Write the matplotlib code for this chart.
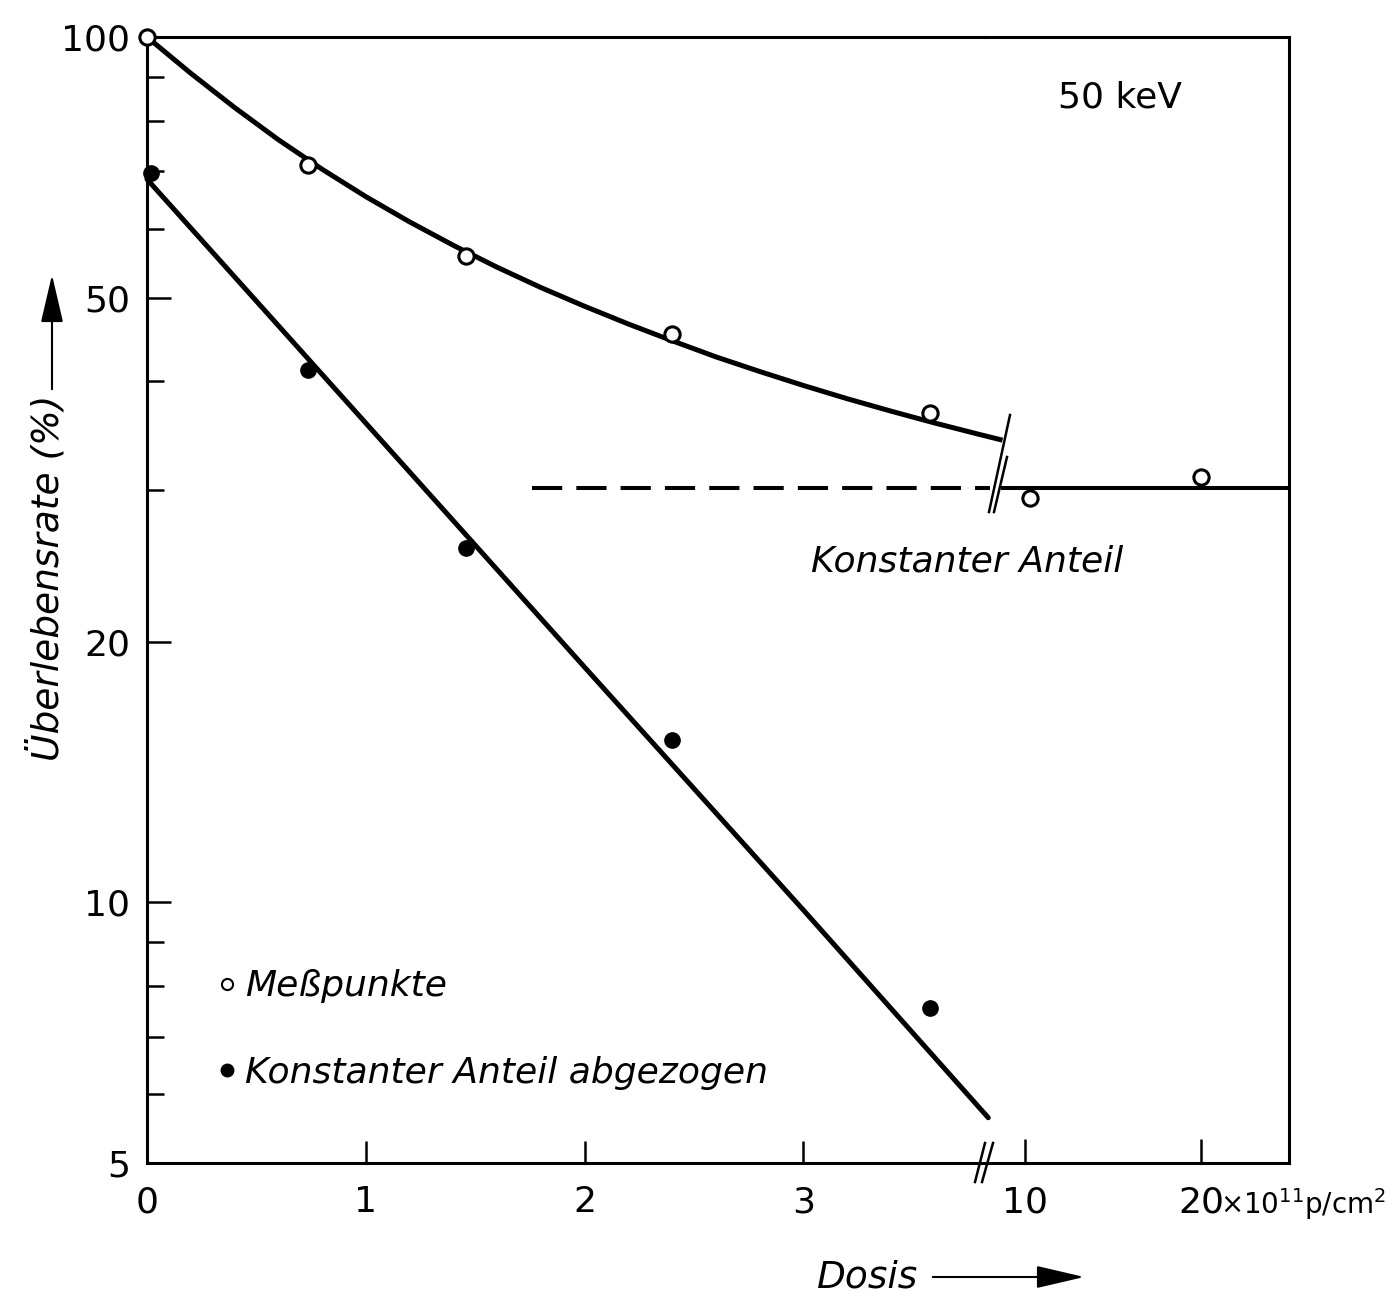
import numpy as np
import matplotlib
matplotlib.use('Agg')
import matplotlib.pyplot as plt
from matplotlib.lines import Line2D
from matplotlib.patches import FancyArrowPatch
from matplotlib.ticker import FixedLocator, FixedFormatter, NullFormatter

plt.rcParams['font.family'] = ['DejaVu Sans']
plt.rcParams['mathtext.fontset'] = 'dejavusans'

# --- data (dose in 1e11 p/cm2, survival in %) ---
mess_x = [0.0, 0.736, 1.459, 2.40, 3.58]
mess_y = [100, 71.1, 55.8, 45.4, 36.8]
mess_x_hi = [10.3, 20.0]
mess_y_hi = [29.3, 31.0]
abgez_x = [0.02, 0.736, 1.459, 2.40, 3.58]
abgez_y = [69.6, 41.2, 25.7, 15.4, 7.55]

fit_mess_x = [0, 0.2, 0.4, 0.6, 0.8, 1.0, 1.2, 1.4, 1.6, 1.8, 2.0,
              2.2, 2.4, 2.6, 2.8, 3.0, 3.2, 3.4, 3.6, 3.8, 3.91]
fit_mess_y = [100, 90.8, 82.9, 76.1, 70.35, 65.4, 61.15, 57.45, 54.2, 51.35, 48.85,
              46.6, 44.57, 42.7, 41.07, 39.57, 38.2, 36.96, 35.81, 34.76, 34.21]
fit_abgez_x = [0, 1.0, 2.0, 3.0, 3.845]
fit_abgez_y = [68.5, 35.8, 18.7, 9.8, 5.64]

konst = 30.1
konst_dash_x = [1.76, 3.855]
konst_solid_x = [8.76, 25]

y_major = [5, 10, 20, 50, 100]
y_minor = [6, 7, 8, 9, 30, 40, 60, 70, 80, 90]

W, H = 1399, 1303
def fx(x):
    return x / W
def fy(y):
    return 1 - y / H

fig = plt.figure(figsize=(W / 100, H / 100), dpi=100)
left, right, top, bottom, brk = 147, 1289, 37, 1163, 985
ax1 = fig.add_axes([fx(left), fy(bottom), (brk - left) / W, (bottom - top) / H])
ax2 = fig.add_axes([fx(brk), fy(bottom), (right - brk) / W, (bottom - top) / H], sharey=ax1)
ax1.patch.set_visible(False)
ax2.patch.set_visible(False)

lw_sp = 2.2
for ax in (ax1, ax2):
    for s in ax.spines.values():
        s.set_linewidth(lw_sp)
ax1.spines['right'].set_visible(False)
ax2.spines['left'].set_visible(False)

ax1.set_yscale('log')
ax1.set_ylim(5, 100)
ax1.set_xlim(0, 3.83)
ax2.set_xlim(7.74, 25)

fs_tick = 26
ax1.yaxis.set_major_locator(FixedLocator(y_major))
ax1.yaxis.set_major_formatter(FixedFormatter([str(v) for v in y_major]))
ax1.yaxis.set_minor_locator(FixedLocator(y_minor))
ax1.yaxis.set_minor_formatter(NullFormatter())
ax1.tick_params(axis='y', which='major', direction='in', length=17, width=1.8,
                labelsize=fs_tick, pad=12)
ax1.tick_params(axis='y', which='minor', direction='in', length=12, width=1.8)
ax1.set_xticks([0, 1, 2, 3])
ax1.set_xticklabels(['0', '1', '2', '3'])
ax1.tick_params(axis='x', direction='in', length=16, width=1.8, labelsize=fs_tick, pad=16)
ax2.set_xticks([10, 20])
ax2.set_xticklabels(['10', '20'])
ax2.tick_params(axis='x', direction='in', length=17, width=1.8, labelsize=fs_tick, pad=16)
ax2.tick_params(axis='y', which='both', left=False, labelleft=False)
ax2.xaxis.set_minor_locator(FixedLocator([]))
ax1.xaxis.set_minor_locator(FixedLocator([]))

# curves
ax1.plot(fit_mess_x, fit_mess_y, color='black', lw=3.6, clip_on=False, solid_capstyle='butt')
ax1.plot(fit_abgez_x, fit_abgez_y, color='black', lw=3.6, clip_on=False, solid_capstyle='round')
ax1.plot(konst_dash_x, [konst, konst], color='black', lw=2.9, dashes=(7.5, 3.5), clip_on=False)
ax2.plot(konst_solid_x, [konst, konst], color='black', lw=2.9, clip_on=False)

# points
ax1.plot(mess_x, mess_y, 'o', ms=11, mfc='white', mec='black', mew=2.2, clip_on=False, zorder=5)
ax2.plot(mess_x_hi, mess_y_hi, 'o', ms=11, mfc='white', mec='black', mew=2.2, clip_on=False, zorder=5)
ax1.plot(abgez_x, abgez_y, 'o', ms=11, mfc='black', mec='black', clip_on=False, zorder=5)

# break marks
def stroke(x0, y0, x1, y1, lw=1.8):
    fig.add_artist(Line2D([fx(x0), fx(x1)], [fy(y0), fy(y1)], color='black', lw=lw,
                          transform=fig.transFigure))
stroke(975, 1182, 985, 1143)
stroke(982, 1182, 993, 1143)
stroke(989, 512, 1010, 415)
stroke(994, 512, 1007, 457)

# texts
fig.text(fx(1120), fy(97), '50 keV', fontsize=26, ha='center', va='center')
fig.text(fx(967), fy(562), 'Konstanter Anteil', fontsize=26, style='italic', ha='center', va='center')
ax2.annotate('×10$^{11}$p/cm$^2$', xy=(20, 0), xycoords=('data', 'axes fraction'),
             xytext=(14, -37), textcoords='offset points', ha='left', va='baseline', fontsize=20)

leg = ax1.legend(handles=[
    Line2D([], [], ls='none', marker='o', ms=8, mfc='white', mec='black', mew=1.5, label='Meßpunkte'),
    Line2D([], [], ls='none', marker='o', ms=9, mfc='black', mec='black', label='Konstanter Anteil abgezogen')],
    loc='upper left', bbox_to_anchor=(0.087, 0.172), frameon=False, handlelength=0.4,
    handletextpad=0.3, labelspacing=1.45, borderpad=0, borderaxespad=0,
    prop={'size': 26, 'style': 'italic'})

fig.text(fx(47), fy(578), 'Überlebensrate (%)', fontsize=27, style='italic', rotation=90,
         ha='center', va='center')
fig.add_artist(FancyArrowPatch((fx(52), fy(392)), (fx(52), fy(272)), transform=fig.transFigure,
                               arrowstyle='-|>,head_length=1.5,head_width=0.35', mutation_scale=20,
                               color='black', lw=1.5))
fig.text(fx(868), fy(1278), 'Dosis', fontsize=27, style='italic', ha='center', va='center')
fig.add_artist(FancyArrowPatch((fx(930), fy(1277)), (fx(1087), fy(1277)), transform=fig.transFigure,
                               arrowstyle='-|>,head_length=1.5,head_width=0.35', mutation_scale=20,
                               color='black', lw=1.5))

fig.savefig('out.png', dpi=100)
